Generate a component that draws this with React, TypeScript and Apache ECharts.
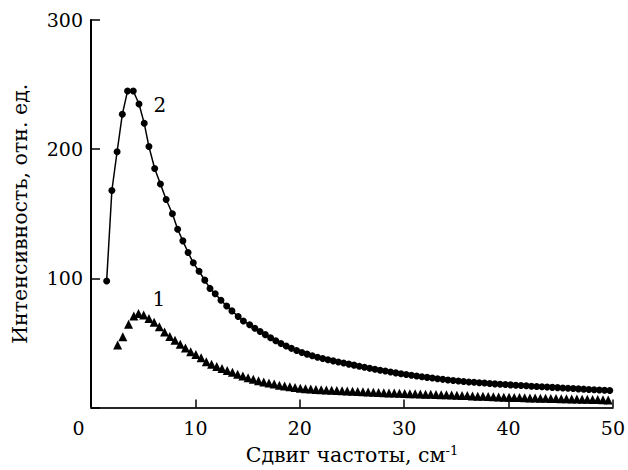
import React, { useEffect, useRef } from "react";
import * as echarts from "echarts";

// Curve 2 (circles, joined by a line)
const x2: number[] = [
  1.5, 2.0, 2.5, 3.0, 3.5, 4.05, 4.6, 5.1, 5.55, 6.1, 6.65, 7.2, 7.8, 8.3, 8.8, 9.3, 9.8,
  10.35, 10.9, 11.4, 11.9, 12.45, 13.0, 13.5, 14.1, 14.6, 15.2,
  15.7, 16.2, 16.7, 17.2, 17.7, 18.2, 18.7, 19.2, 19.7, 20.2, 20.7, 21.2, 21.7, 22.2, 22.7,
  23.2, 23.7, 24.2, 24.7, 25.2, 25.7, 26.2, 26.7, 27.2, 27.7, 28.2, 28.7, 29.2, 29.7, 30.2,
  30.7, 31.2, 31.7, 32.2, 32.7, 33.2, 33.7, 34.2, 34.7, 35.2, 35.7, 36.2, 36.7, 37.2, 37.7,
  38.2, 38.7, 39.2, 39.7, 40.2, 40.7, 41.2, 41.7, 42.2, 42.7, 43.2, 43.7, 44.2, 44.7, 45.2,
  45.7, 46.2, 46.7, 47.2, 47.7, 48.2, 48.7, 49.2, 49.7,
];
const y2: number[] = [
  98, 168, 198, 227, 245, 245, 235, 220, 202, 185, 173, 161, 150, 138, 129, 120, 112,
  105.5, 98.6, 92.2, 88, 83, 78.6, 74.8, 70.4, 67, 64,
  61.3, 58.8, 56.4, 54.0, 51.7, 49.6, 47.6, 45.8, 44.1, 42.6, 41.3, 40.0, 38.9, 37.9, 37.0,
  36.1, 35.2, 34.4, 33.6, 32.8, 32.0, 31.2, 30.4, 29.6, 28.9, 28.2, 27.5, 26.8, 26.1, 25.5,
  25.0, 24.4, 23.8, 23.3, 22.8, 22.3, 21.8, 21.3, 20.9, 20.5, 20.1, 19.8, 19.5, 19.2, 18.9,
  18.6, 18.3, 18.0, 17.8, 17.5, 17.2, 17.0, 16.8, 16.5, 16.3, 16.1, 15.8, 15.6, 15.4, 15.1,
  14.9, 14.7, 14.4, 14.2, 14.0, 13.8, 13.5, 13.3, 13.1,
];

// Curve 1 (triangles only)
const x1: number[] = [
  2.55, 3.05, 3.6, 4.1, 4.55, 5.05, 5.55, 6.05, 6.55, 7.05, 7.55, 8.05, 8.55, 9.05, 9.55,
  10.05, 10.55, 11.05, 11.55, 12.05, 12.55, 13.05, 13.55, 14.05, 14.55, 15.05, 15.55, 16.05,
  16.55, 17.05, 17.55, 18.05, 18.55, 19.05, 19.55, 20.05, 20.55, 21.05, 21.55, 22.05, 22.55,
  23.05, 23.55, 24.05, 24.55, 25.05, 25.55, 26.05, 26.55, 27.05, 27.55, 28.05, 28.55, 29.05,
  29.55, 30.05, 30.55, 31.05, 31.55, 32.05, 32.55, 33.05, 33.55, 34.05, 34.55, 35.05, 35.55,
  36.05, 36.55, 37.05, 37.55, 38.05, 38.55, 39.05, 39.55, 40.05, 40.55, 41.05, 41.55, 42.05,
  42.55, 43.05, 43.55, 44.05, 44.55, 45.05, 45.55, 46.05, 46.55, 47.05, 47.55, 48.05, 48.55,
  49.05, 49.55,
];
const y1: number[] = [
  48.3, 54.8, 64.5, 70.9, 72.7, 71.7, 69, 66, 62.5, 58.5, 55, 52, 49, 46, 43.2,
  41, 38.5, 35.5, 33.5, 31.8, 30.2, 28.7, 27.2, 25.8, 24.4, 23.1, 21.9, 20.8,
  19.8, 18.9, 18.1, 17.3, 16.6, 16.0, 15.4, 14.9, 14.6, 14.3, 14.0, 13.8, 13.5,
  13.3, 13.1, 12.9, 12.7, 12.5, 12.3, 12.1, 12.0, 11.8, 11.6, 11.5, 11.3, 11.2,
  11.0, 10.9, 10.7, 10.6, 10.4, 10.3, 10.2, 10.0, 9.9, 9.8, 9.6, 9.5, 9.3,
  9.2, 9.0, 8.8, 8.7, 8.5, 8.3, 8.2, 8.0, 7.9, 7.8, 7.7, 7.5, 7.4,
  7.3, 7.2, 7.1, 7.0, 6.9, 6.8, 6.7, 6.6, 6.5, 6.4, 6.3, 6.2, 6.1,
  6.0, 5.9,
];

const curveLabels = [
  { name: "2", coord: [6.6, 234] },
  { name: "1", coord: [6.5, 84] },
];

const FONT = "DejaVu Serif";

export default function App() {
  const ref = useRef<HTMLDivElement>(null);
  useEffect(() => {
    if (!ref.current) return;
    const chart = echarts.init(ref.current, undefined, { renderer: "svg" });
    const labelMark = (i: number) => ({
      symbol: "rect",
      symbolSize: 1,
      itemStyle: { color: "rgba(0,0,0,0)" },
      label: {
        show: true,
        position: "inside",
        formatter: curveLabels[i].name,
        color: "#000",
        fontFamily: FONT,
        fontSize: 20,
      },
      data: [{ coord: curveLabels[i].coord }],
    });
    chart.setOption({
      animation: false,
      backgroundColor: "#fff",
      grid: { left: 91, right: 13, top: 20, bottom: 60 },
      xAxis: [
        {
          type: "value",
          min: 0,
          max: 50,
          interval: 10,
          position: "bottom",
          axisLine: { show: true, onZero: false, lineStyle: { color: "#9a9a9a", width: 2 } },
          axisTick: { show: true, inside: true, length: 8, lineStyle: { color: "#000", width: 1.5 } },
          splitLine: { show: false },
          axisLabel: {
            color: "#000",
            fontFamily: FONT,
            fontSize: 19,
            margin: 11,
            formatter: (v: number) => (v === 0 ? "{z|0}" : String(v)),
            rich: { z: { fontFamily: FONT, fontSize: 19, color: "#000", padding: [0, 25, 0, 0] } },
          },
          name: "{a|Сдвиг частоты, см}{b|-1}",
          nameLocation: "middle",
          nameGap: 36,
          nameTextStyle: {
            rich: {
              a: { fontFamily: FONT, fontSize: 20.5, color: "#000" },
              b: { fontFamily: FONT, fontSize: 13, color: "#000", verticalAlign: "top", padding: [0, 0, 9, 0] },
            },
          },
        },
        {
          type: "value",
          min: 0,
          max: 50,
          position: "top",
          axisLine: { show: true, lineStyle: { color: "#000", width: 1.5 } },
          axisTick: { show: false },
          axisLabel: { show: false },
          splitLine: { show: false },
        },
      ],
      yAxis: [
        {
          type: "value",
          min: 0,
          max: 300,
          interval: 100,
          position: "left",
          axisLine: { show: true, onZero: false, lineStyle: { color: "#000", width: 2 } },
          axisTick: { show: true, inside: true, length: 9, lineStyle: { color: "#000", width: 1.5 } },
          splitLine: { show: false },
          axisLabel: {
            color: "#000",
            fontFamily: FONT,
            fontSize: 19,
            margin: 8,
            formatter: (v: number) => (v === 0 ? "" : String(v)),
          },
          name: "Интенсивность, отн. ед.",
          nameLocation: "middle",
          nameGap: 61,
          nameTextStyle: { fontFamily: FONT, fontSize: 20.5, color: "#000" },
        },
        {
          type: "value",
          min: 0,
          max: 300,
          position: "right",
          axisLine: { show: true, lineStyle: { color: "#000", width: 1.5 } },
          axisTick: { show: false },
          axisLabel: { show: false },
          splitLine: { show: false },
        },
      ],
      series: [
        {
          name: "2",
          type: "line",
          xAxisIndex: 0,
          yAxisIndex: 0,
          data: x2.map((x, i) => [x, y2[i]]),
          symbol: "circle",
          symbolSize: 7,
          showAllSymbol: true,
          itemStyle: { color: "#000", opacity: 1 },
          lineStyle: { color: "#000", width: 1.5 },
          markPoint: labelMark(0),
        },
        {
          name: "1",
          type: "scatter",
          xAxisIndex: 0,
          yAxisIndex: 0,
          data: x1.map((x, i) => [x, y1[i]]),
          symbol: "triangle",
          symbolSize: 9,
          itemStyle: { color: "#000", opacity: 1 },
          markPoint: labelMark(1),
        },
      ],
    });
    return () => chart.dispose();
  }, []);
  return (
    <div
      ref={ref}
      style={{ position: "fixed", left: 0, top: 0, width: 628, height: 470, background: "#fff" }}
    />
  );
}
